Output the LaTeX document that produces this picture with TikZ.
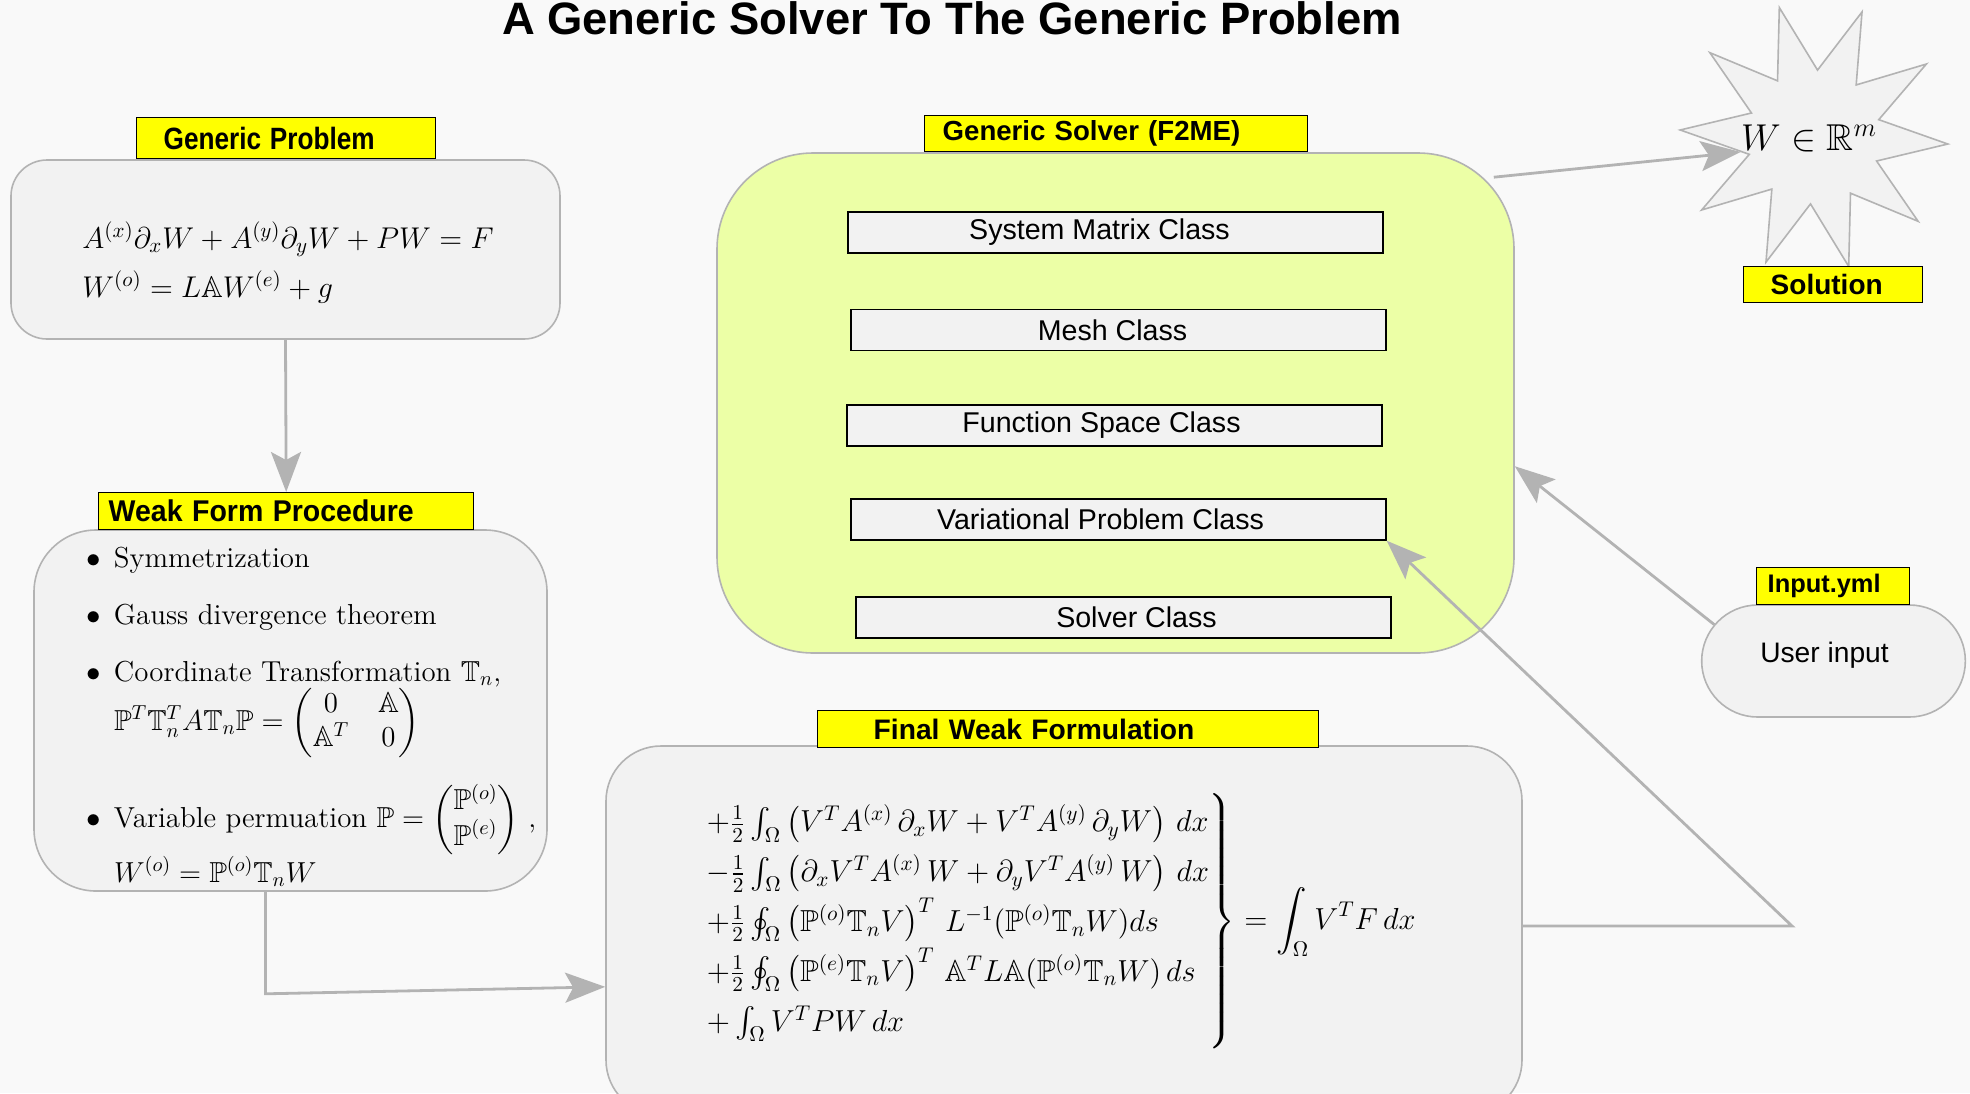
\RequirePackage{fix-cm}
\documentclass[tikz,border=0pt]{standalone}
\usepackage{amsmath,amssymb}
\usepackage{fontspec}
\usetikzlibrary{arrows.meta,shapes.geometric,shapes.misc,calc}

\definecolor{PageGray}{RGB}{249,249,249}
\definecolor{BoxGray}{RGB}{242,242,242}
\definecolor{EdgeGray}{RGB}{179,179,179}
\definecolor{SolverGreen}{RGB}{236,255,166}
\definecolor{TagYellow}{RGB}{255,255,0}

\newfontfamily\headfont{Liberation Sans}
\newcommand{\itm}{\makebox[13.8pt][l]{$\bullet$}}
\setlength{\arraycolsep}{7.2pt}

\begin{document}
\begin{tikzpicture}[x=0.5pt,y=0.5pt,yscale=-1,xscale=1,
	box/.style={draw=EdgeGray, fill=BoxGray, line width=0.8pt, rounded corners=#1},
	tag/.style={draw=black, fill=TagYellow, line width=0.7pt, anchor=north west, align=left, inner ysep=0pt},
	classbox/.style={draw=black, fill=BoxGray, line width=0.7pt, minimum width=267.5pt, minimum height=20.5pt, inner sep=0pt, font=\headfont\fontsize{14.3}{17}\selectfont},
	flow/.style={draw=EdgeGray, line width=1.4pt, -{Stealth[length=20pt,width=15pt,inset=4pt]}},
	eq/.style={anchor=base west, inner sep=0pt, font=\fontsize{14.45}{17}\selectfont}]

		% Page background, fixes the frame
		\useasboundingbox (0,0) rectangle (1970,1093);
		\fill[PageGray] (0,0) rectangle (1970,1093);

		% Title
		\node[inner sep=0pt, anchor=base, font=\headfont\bfseries\fontsize{22.7}{27}\selectfont] (title) at (952,34) {A Generic Solver To The Generic Problem};

		% Generic problem: box, tag and the two equations
		\node[box=18pt, minimum width=274.5pt, minimum height=89.5pt] (gp) at (285.5,249.5) {};
		\node[tag, inner xsep=13.5pt, text width=122.5pt, minimum height=20.5pt, font=\headfont\bfseries\fontsize{15.4}{18}\selectfont] (gplbl) at (136,117) {\scalebox{0.85}[1]{Generic Problem}};
		\node[eq, font=\fontsize{15}{18}\selectfont] (gpeqa) at (82,248) {$A^{(x)}\partial_xW+A^{(y)}\partial_yW+PW=F$};
		\node[eq, font=\fontsize{15}{18}\selectfont] (gpeqb) at (82,297) {$W^{(o)}=L\mathbb{A}W^{(e)}+g$};

		% Weak form procedure: box, tag and the list
		\node[box=31pt, minimum width=256.5pt, minimum height=180.5pt] (weak) at (290.5,710.5) {};
		\node[tag, inner xsep=5pt, text width=177.5pt, minimum height=18.5pt, font=\headfont\bfseries\fontsize{15}{18}\selectfont] (weaklbl) at (98,492) {\scalebox{0.95}[1]{Weak Form Procedure}};
		\node[eq] (wfa) at (86,567) {\itm Symmetrization};
		\node[eq] (wfb) at (86,624) {\itm Gauss divergence theorem};
		\node[eq] (wfc) at (86,681) {\itm Coordinate Transformation $\mathbb{T}_n$,};
		\node[eq] (wfd) at (113.6,730) {$\mathbb{P}^T\mathbb{T}_n^TA\mathbb{T}_n\mathbb{P}=\begin{pmatrix}0&\mathbb{A}\\\mathbb{A}^T&0\end{pmatrix}$};
		\node[eq] (wfe) at (86,827) {\itm Variable permuation $\mathbb{P}=\begin{pmatrix}\mathbb{P}^{(o)}\\\mathbb{P}^{(e)}\end{pmatrix}$ ,};
		\node[eq] (wff) at (113.6,882) {$W^{(o)}=\mathbb{P}^{(o)}\mathbb{T}_nW$};

		% Final weak formulation
		\node[box=27.5pt, minimum width=458pt, minimum height=184.5pt] (final) at (1064,930.5) {};
		\node[tag, inner xsep=28pt, text width=194.5pt, minimum height=18.5pt, font=\headfont\bfseries\fontsize{14.1}{17}\selectfont] (finallbl) at (817,710) {Final Weak Formulation};
		\node[anchor=west, inner sep=0pt, font=\fontsize{15.2}{18.2}\selectfont] (finaleq) at (704,921.5) {\renewcommand{\arraystretch}{1.37}$\left.\begin{array}{@{}l@{}}
			+\frac{1}{2}\int_\Omega\left(V^TA^{(x)}\,\partial_xW+V^TA^{(y)}\,\partial_yW\right)\,dx\\
			-\frac{1}{2}\int_\Omega\left(\partial_xV^TA^{(x)}\,W+\partial_yV^TA^{(y)}\,W\right)\,dx\\
			+\frac{1}{2}\oint_\Omega\left(\mathbb{P}^{(o)}\mathbb{T}_nV\right)^T\,L^{-1}(\mathbb{P}^{(o)}\mathbb{T}_nW)ds\\
			+\frac{1}{2}\oint_\Omega\left(\mathbb{P}^{(e)}\mathbb{T}_nV\right)^T\,\mathbb{A}^TL\mathbb{A}(\mathbb{P}^{(o)}\mathbb{T}_nW)\,ds\\
			+\int_\Omega V^TPW\,dx
			\end{array}\right\}=\displaystyle\int_\Omega V^TF\,dx$};

		% Generic solver with its classes (leading space nudges the text sideways)
		\node[box=48pt, fill=SolverGreen, minimum width=398.5pt, minimum height=250pt] (solver) at (1115.5,403) {};
		\node[tag, inner xsep=9pt, text width=173.5pt, minimum height=18pt, font=\headfont\bfseries\fontsize{13.8}{16}\selectfont] (solverlbl) at (924,115) {Generic Solver (F2ME)};
		\node[classbox] (sysmat) at (1115.5,232.5) {\hspace*{-16pt}System Matrix Class};
		\node[classbox] (mesh) at (1118.5,330) {\hspace*{-6pt}Mesh Class};
		\node[classbox] (funcspace) at (1114.5,425.5) {\hspace*{-13pt}Function Space Class};
		\node[classbox] (var) at (1118.5,519.5) {\hspace*{-18pt}Variational Problem Class};
		\node[classbox] (solv) at (1123.5,617.5) {\hspace*{13pt}Solver Class};

		% Solution star
		\node[star, star points=10, star point ratio=2, shape border rotate=15, minimum size=134pt, inner sep=0pt, draw=EdgeGray, fill=BoxGray, line width=0.8pt] (sol) at (1814,137) {};
		\node[inner sep=0pt, font=\fontsize{18.7}{22}\selectfont] (solmath) at (1809,138) {$W\in\mathbb{R}^m$};
		\node[tag, inner xsep=13.5pt, text width=62.5pt, minimum height=18pt, font=\headfont\bfseries\fontsize{14}{17}\selectfont] (sollbl) at (1743,266) {Solution};

		% User input
		\node[rounded rectangle, draw=EdgeGray, fill=BoxGray, line width=0.8pt, minimum width=138.5pt, minimum height=56pt, text depth=9pt, font=\headfont\fontsize{14.1}{17}\selectfont] (user) at (1833.5,661) {\hspace*{-9pt}User input};
		\node[tag, inner xsep=5.5pt, text width=65.5pt, minimum height=18.5pt, font=\headfont\bfseries\fontsize{12.7}{15}\selectfont] (inputlbl) at (1756,567) {Input.yml};

		% Connectors
		\coordinate (turn) at (1792,926);
		\draw[flow] (gp.south) -- (weaklbl.north);
		\draw[flow] ($(weak.south)+(-25,0)$) -- ++(0,102) -- (final.187);
		\draw[flow] (final.east |- turn) -- (turn) -- (var.south east);
		\draw[flow] (user.163) -- (solver.-9);
		\draw[flow] ($(solver.north east)+(-21,25)$) -- (solmath.south west);
\end{tikzpicture}
\end{document}
